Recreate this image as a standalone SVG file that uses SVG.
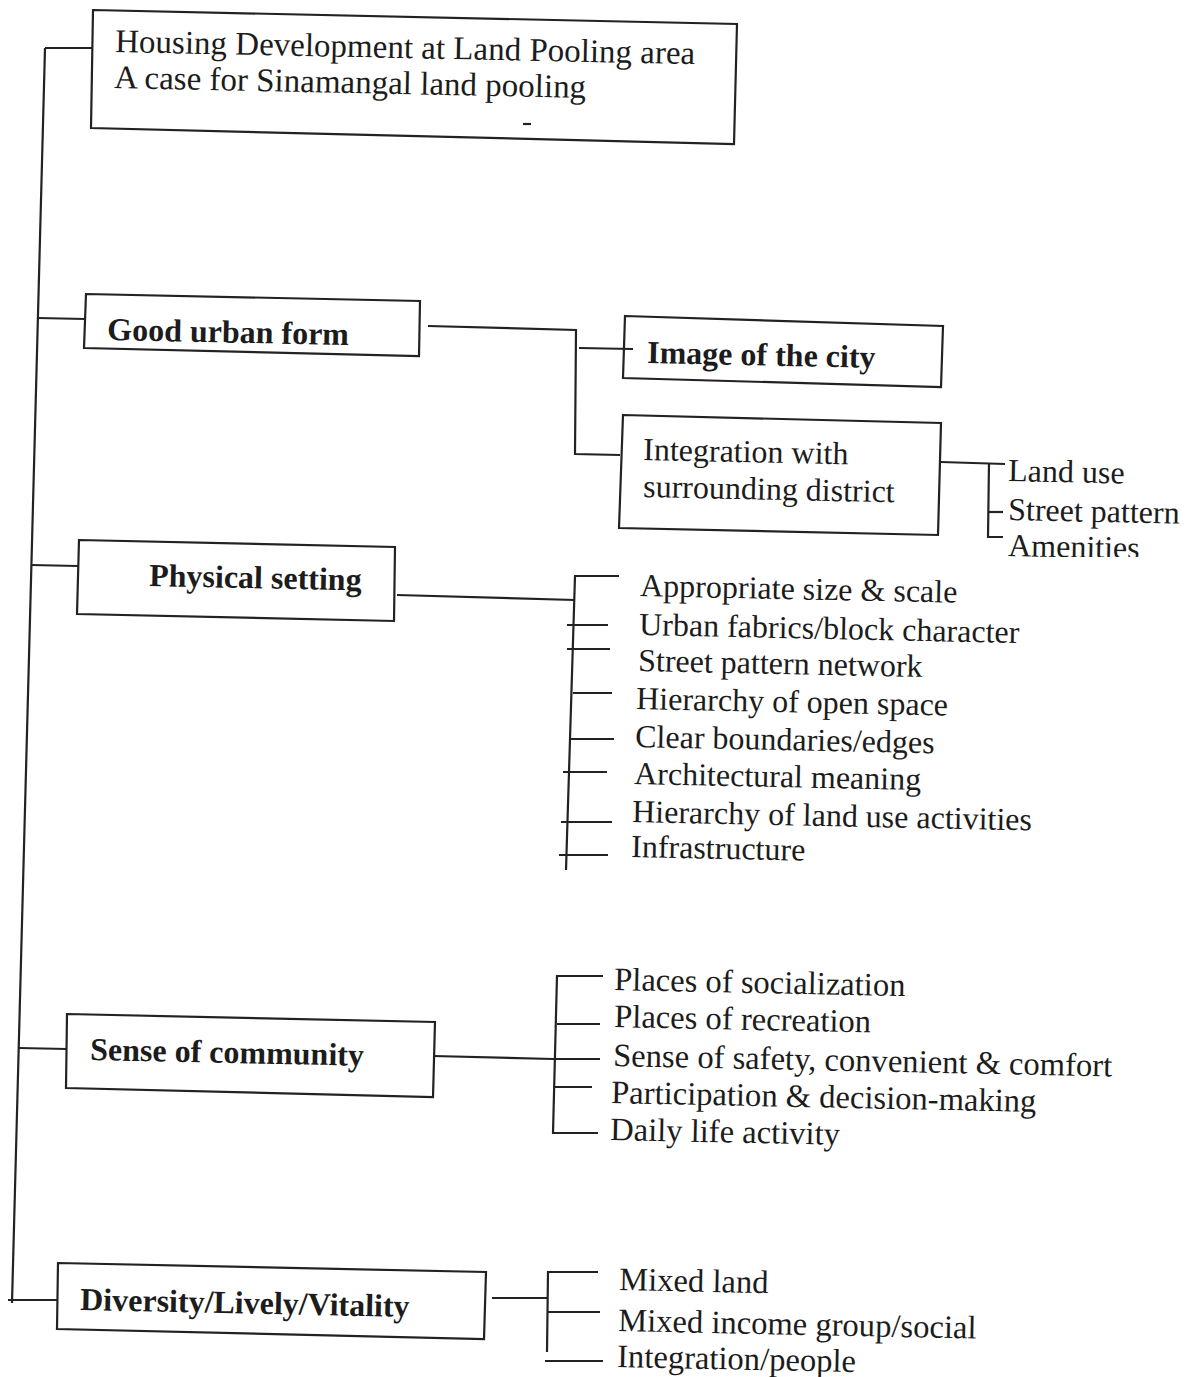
<svg xmlns="http://www.w3.org/2000/svg" width="1200" height="1377" viewBox="0 0 1200 1377">
<style>
.bx{fill:none;stroke:#222;stroke-width:2.2;stroke-linejoin:miter}
.ln{fill:none;stroke:#222;stroke-width:2.2}
text{font-family:"Liberation Serif","Times New Roman",serif;fill:#1c1c1c;font-size:32px}
.b{font-weight:bold}
.t{font-size:33px}
.c{font-size:32.6px}
</style>
<defs>
<clipPath id="clipAm"><rect x="990" y="400" width="210" height="157"/></clipPath>
</defs>
<rect width="1200" height="1377" fill="#ffffff"/>

<g id="connectors">
  <path class="ln" d="M45,48 L12,1303"/>
  <path class="ln" d="M45,48 L92,48"/>
  <path class="ln" d="M38,318 L85,319"/>
  <path class="ln" d="M31,565 L78,566"/>
  <path class="ln" d="M19,1048 L67,1049"/>
  <path class="ln" d="M8,1300 L57,1300"/>
  <!-- good urban form -->
  <path class="ln" d="M428,326 L576,330 L575,454 L620,455"/>
  <path class="ln" d="M579,348 L633,349"/>
  <!-- integration -->
  <path class="ln" d="M941,462 L1005,464"/>
  <path class="ln" d="M989,463 L988,537 L1003,537"/>
  <path class="ln" d="M988,512 L1003,512"/>
  <!-- physical setting -->
  <path class="ln" d="M397,595 L575,600"/>
  <path class="ln" d="M619,576 L575,576 L566,870"/>
  <path class="ln" d="M567,625 L608,625"/>
  <path class="ln" d="M567,649 L610,649"/>
  <path class="ln" d="M573,693 L612,693"/>
  <path class="ln" d="M570,739 L614,739"/>
  <path class="ln" d="M563,772 L607,772"/>
  <path class="ln" d="M561,822 L612,822"/>
  <path class="ln" d="M559,855 L608,855"/>
  <!-- sense of community -->
  <path class="ln" d="M433,1056 L553,1059"/>
  <path class="ln" d="M603,976 L557,976 L553,1133 L598,1133"/>
  <path class="ln" d="M557,1024 L600,1024"/>
  <path class="ln" d="M553,1059 L600,1059"/>
  <path class="ln" d="M555,1087 L592,1087"/>
  <!-- diversity -->
  <path class="ln" d="M492,1298 L547,1298"/>
  <path class="ln" d="M598,1272 L548,1272 L547,1352"/>
  <path class="ln" d="M547,1312 L600,1312"/>
  <path class="ln" d="M545,1361 L603,1361"/>
</g>

<g id="root">
  <polygon class="bx" points="93,10 737,24 734,144 91,128"/>
  <path class="ln" d="M523,124 L531,124" stroke-width="2"/>
  <text class="t" x="115" y="52" transform="rotate(1.2 115 52)">Housing Development at Land Pooling area</text>
  <text class="t" x="114" y="88" transform="rotate(1.2 114 88)">A case for Sinamangal land pooling</text>
</g>

<g id="good-urban-form">
  <polygon class="bx" points="86,294 420,301 419,356 84,348"/>
  <text class="b" x="107" y="340" transform="rotate(1.2 107 340)">Good urban form</text>
</g>

<g id="image-of-the-city">
  <polygon class="bx" points="625,316 943,326 941,387 623,378"/>
  <text class="b" x="647" y="363" transform="rotate(1.2 647 363)">Image of the city</text>
</g>

<g id="integration">
  <polygon class="bx" points="623,415 941,423 938,535 619,528"/>
  <text x="643" y="460" transform="rotate(1.2 643 460)">Integration with</text>
  <text x="643" y="497" transform="rotate(1.2 643 497)">surrounding district</text>
</g>

<g id="integration-items">
  <text x="1008" y="481" transform="rotate(1.2 1008 481)">Land use</text>
  <text x="1008" y="520" transform="rotate(1.2 1008 520)">Street pattern</text>
  <g clip-path="url(#clipAm)">
    <text x="1008" y="556" transform="rotate(1.2 1008 556)">Amenities</text>
  </g>
</g>

<g id="physical-setting">
  <polygon class="bx" points="79,540 395,547 394,621 77,614"/>
  <text class="b" x="149" y="586" transform="rotate(1.2 149 586)">Physical setting</text>
</g>

<g id="physical-items">
  <text x="640" y="596" transform="rotate(1.2 640 596)">Appropriate size &amp; scale</text>
  <text x="639" y="635" transform="rotate(1.2 639 635)">Urban fabrics/block character</text>
  <text x="638" y="671" transform="rotate(1.2 638 671)">Street pattern network</text>
  <text x="636" y="709" transform="rotate(1.2 636 709)">Hierarchy of open space</text>
  <text x="635" y="747" transform="rotate(1.2 635 747)">Clear boundaries/edges</text>
  <text x="634" y="784" transform="rotate(1.2 634 784)">Architectural meaning</text>
  <text x="632" y="822" transform="rotate(1.2 632 822)">Hierarchy of land use activities</text>
  <text x="631" y="857" transform="rotate(1.2 631 857)">Infrastructure</text>
</g>

<g id="sense-of-community">
  <polygon class="bx" points="67,1014 435,1022 433,1097 66,1088"/>
  <text class="b" x="90" y="1060" transform="rotate(1.2 90 1060)">Sense of community</text>
</g>

<g id="community-items">
  <text class="c" x="614" y="990" transform="rotate(1.2 614 990)">Places of socialization</text>
  <text class="c" x="614" y="1027" transform="rotate(1.2 614 1027)">Places of recreation</text>
  <text class="c" x="613" y="1066" transform="rotate(1.2 613 1066)">Sense of safety, convenient &amp; comfort</text>
  <text class="c" x="611" y="1103" transform="rotate(1.2 611 1103)">Participation &amp; decision-making</text>
  <text class="c" x="610" y="1140" transform="rotate(1.2 610 1140)">Daily life activity</text>
</g>

<g id="diversity">
  <polygon class="bx" points="58,1263 486,1272 484,1339 57,1329"/>
  <text class="b" x="80" y="1310" transform="rotate(1.2 80 1310)">Diversity/Lively/Vitality</text>
</g>

<g id="diversity-items">
  <text class="c" x="619" y="1290" transform="rotate(1.2 619 1290)">Mixed land</text>
  <text class="c" x="618" y="1331" transform="rotate(1.2 618 1331)">Mixed income group/social</text>
  <text class="c" x="617" y="1367" transform="rotate(1.2 617 1367)">Integration/people</text>
</g>
</svg>
